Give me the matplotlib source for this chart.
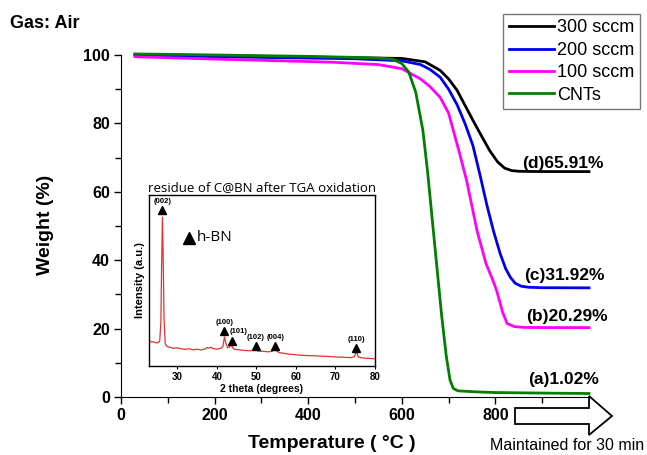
import matplotlib
matplotlib.use('Agg')
import matplotlib.pyplot as plt
from matplotlib.patches import Polygon
import numpy as np

plt.rcParams['font.family'] = ['Liberation Sans', 'DejaVu Sans']

# TGA curves (temperature in C, weight in %)
t_300 = [30, 100, 200, 300, 400, 500, 600, 650, 682, 700, 718, 735, 752, 770, 788,
         805, 820, 835, 850, 870, 900, 1000]
w_300 = [100.2, 100.0, 99.8, 99.6, 99.4, 99.2, 99.0, 98.0, 95.5, 93.0, 89.7, 85.3, 80.9,
         76.4, 72.0, 68.7, 66.9, 66.2, 66.0, 65.95, 65.92, 65.91]

t_200 = [30, 100, 200, 300, 400, 500, 600, 640, 660, 682, 700, 718, 735, 752, 767, 782,
         796, 810, 822, 832, 842, 855, 870, 900, 1000]
w_200 = [100.0, 99.8, 99.5, 99.3, 99.1, 98.9, 98.3, 97.2, 95.8, 93.5, 90.0, 85.5, 80.0,
         73.5, 65.0, 56.0, 48.5, 42.0, 37.5, 35.0, 33.3, 32.4, 32.1, 31.95, 31.92]

t_100 = [30, 100, 200, 340, 450, 550, 600, 640, 660, 682, 700, 724, 739, 761, 780, 795,
         803, 815, 825, 840, 860, 900, 1000]
w_100 = [99.5, 99.2, 98.8, 98.3, 97.9, 97.2, 96.0, 93.0, 90.8, 87.6, 83.0, 71.0, 63.0,
         48.5, 39.0, 34.0, 31.0, 25.0, 21.5, 20.6, 20.35, 20.3, 20.29]

t_cnt = [30, 100, 200, 300, 400, 500, 550, 580, 600, 615, 630, 645, 655, 665, 675, 685,
         695, 703, 710, 720, 760, 800, 900, 1000]
w_cnt = [100.3, 100.2, 100.0, 99.8, 99.6, 99.3, 99.1, 98.8, 97.5, 95.0, 89.0, 78.0,
         66.0, 52.0, 38.0, 24.0, 12.0, 5.0, 2.5, 1.8, 1.5, 1.3, 1.15, 1.02]

series_labels = ['300 sccm', '200 sccm', '100 sccm', 'CNTs']
residue_labels = ['(d)65.91%', '(c)31.92%', '(b)20.29%', '(a)1.02%']
residue_pos = [(858, 68.3), (862, 35.6), (866, 23.4), (870, 5.2)]

# XRD of residue (inset)
theta = [23, 23.5, 24, 24.5, 25, 25.5, 25.8, 26.0, 26.2, 26.4, 26.6, 26.9, 27.3, 28, 29,
         30, 31, 32, 33, 34, 35, 36, 37, 37.5, 38, 38.5, 39, 40, 41, 41.5, 41.9, 42.3,
         42.7, 43.1, 43.6, 44.0, 44.5, 45.5, 46.5, 48, 49.3, 49.8, 50.3, 51, 52, 53, 54,
         54.4, 54.8, 55.2, 55.8, 57, 58, 59, 60, 62, 64, 66, 68, 70, 72, 74, 74.8, 75.3,
         75.8, 77, 78, 79, 80]
intensity = [14.5, 14.0, 14.2, 13.6, 13.5, 14.5, 25, 60, 87, 62, 28, 13, 11.5, 11.0,
             10.4, 10.6, 10.0, 9.7, 10.1, 9.5, 9.8, 9.4, 10.0, 10.8, 10.4, 11.0, 10.2, 9.8,
             10.4, 11.5, 17.0, 13.0, 10.6, 11.0, 12.6, 10.6, 9.7, 9.5, 9.2, 8.9, 9.1, 11.0,
             8.8, 8.7, 8.5, 8.3, 8.6, 9.8, 11.6, 8.6, 7.8, 7.4, 7.0, 6.8, 6.5, 6.2, 6.0,
             5.8, 5.6, 5.3, 5.1, 4.9, 5.6, 8.5, 5.2, 4.7, 4.5, 4.4, 4.2]
peak_labels = ['(002)', '(100)', '(101)', '(102)', '(004)', '(110)']
peak_theta = [26.2, 41.9, 43.7, 49.8, 54.8, 75.3]
peak_marker_y = [91, 20.5, 14.8, 11.5, 11.5, 10.5]

fig = plt.figure(figsize=(6.47, 4.55), dpi=100)
ax = fig.add_axes([121 / 647, 1 - 397 / 455, 468 / 647, 342 / 455])

colors = ['black', '#0000ee', '#ff00ff', '#008000']
for t, w, c, lab in zip([t_300, t_200, t_100, t_cnt], [w_300, w_200, w_100, w_cnt],
                        colors, series_labels):
    ax.plot(t, w, color=c, lw=2.0, label=lab, clip_on=False)

for lab, (tx, wy) in zip(residue_labels, residue_pos):
    ax.text(tx, wy, lab, fontsize=12.5, fontweight='bold', va='center', ha='left')

ax.set_xlim(0, 1000)
ax.set_ylim(0, 100)
ax.set_xticks([0, 200, 400, 600, 800])
ax.set_xticks([100, 300, 500, 700, 900], minor=True)
ax.set_yticks([0, 20, 40, 60, 80, 100])
ax.set_yticks([10, 30, 50, 70, 90], minor=True)
ax.spines['top'].set_visible(False)
ax.spines['right'].set_visible(False)
ax.tick_params(axis='both', which='major', length=5, width=1, labelsize=11.5, pad=3)
ax.tick_params(axis='both', which='minor', length=4, width=1)
for lbl in ax.get_xticklabels() + ax.get_yticklabels():
    lbl.set_fontweight('bold')

fig.text(45 / 647, 1 - 225 / 455, 'Weight (%)', rotation=90, fontsize=14,
         fontweight='bold', ha='center', va='center')
fig.text(332 / 647, 1 - 443 / 455, 'Temperature ( °C )', fontsize=14,
         fontweight='bold', ha='center', va='center')
fig.text(10 / 647, 1 - 23 / 455, 'Gas: Air', fontsize=13, fontweight='bold',
         ha='left', va='center')
fig.text(490 / 647, 1 - 446 / 455, 'Maintained for 30 min', fontsize=11.5,
         ha='left', va='center')

# open arrow under the axis end
arrow_px = [(515, 408), (589, 408), (589, 396), (612, 416), (589, 435), (589, 424),
            (515, 424)]
arrow = Polygon([(x / 647, 1 - y / 455) for x, y in arrow_px], closed=True,
                facecolor='white', edgecolor='black', lw=1.3,
                transform=fig.transFigure)
fig.patches.append(arrow)

leg = fig.legend(loc='upper right', bbox_to_anchor=(640 / 647, 1 - 14 / 455),
                 fontsize=13, handlelength=2.5, handletextpad=0.2,
                 labelspacing=0.3, borderpad=0.3, borderaxespad=0,
                 fancybox=False, edgecolor='#777777', framealpha=1)
leg.get_frame().set_linewidth(1.0)

# inset XRD
ins = fig.add_axes([149 / 647, 1 - 366 / 455, 226 / 647, 171 / 455])
ins.plot(theta, intensity, color='#e83030', lw=0.9)
ins.set_xlim(22.8, 80)
ins.set_ylim(0, 100)
ins.set_yticks([])
ins.set_xticks([30, 40, 50, 60, 70, 80])
ins.tick_params(axis='x', length=2, width=0.8, labelsize=7, pad=2)
for lbl in ins.get_xticklabels():
    lbl.set_fontweight('bold')
for s in ins.spines.values():
    s.set_linewidth(1.0)
ins.set_xlabel('2 theta (degrees)', fontsize=7.5, fontweight='bold', labelpad=2)
ins.set_ylabel('Intensity (a.u.)', fontsize=8, fontweight='bold', labelpad=3)
ins.set_title('residue of C@BN after TGA oxidation', fontsize=9.5, pad=3,
              family=['Open Sans', 'DejaVu Sans'])

ins.plot(peak_theta, peak_marker_y, linestyle='none', marker='^', color='black',
         markersize=6)
for lab, px, py in zip(peak_labels, peak_theta, peak_marker_y):
    if lab == '(101)':
        ins.text(px - 0.6, py + 3.2, lab, fontsize=5.5, fontweight='bold',
                 ha='left', va='bottom')
    else:
        ins.text(px, py + 3, lab, fontsize=5.5, fontweight='bold',
                 ha='center', va='bottom')
ins.plot([33.0], [75], linestyle='none', marker='^', color='black', markersize=8)
ins.text(35.0, 75, 'h-BN', fontsize=11, va='center', ha='left',
         family=['Open Sans', 'DejaVu Sans'])

fig.savefig('out.png', dpi=100)
